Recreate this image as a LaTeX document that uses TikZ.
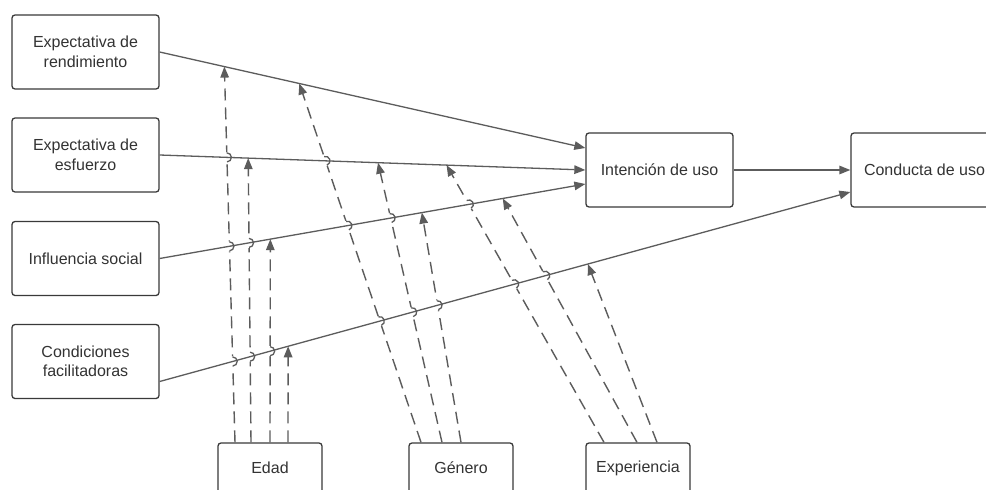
\documentclass[tikz,border=0pt]{standalone}
\usepackage{fontspec}
\setmainfont{Liberation Sans}
\usetikzlibrary{arrows.meta,intersections,calc}
\definecolor{boxc}{HTML}{3A3A3A}
\definecolor{linec}{HTML}{5C5C5C}
\definecolor{txtc}{HTML}{333333}
\newcommand\hoperase[4]{%
  \path[name intersections={of=#1 and #2,by=hp}];
  \draw[eraser] let \p1=($(#4)-(#3)$), \n1={atan2(\y1,\x1)} in
    ([shift={(\n1:-5pt)}]hp) -- ([shift={(\n1:5pt)}]hp);}
\newcommand\hoparc[4]{%
  \path[name intersections={of=#1 and #2,by=hp}];
  \draw[hopline] let \p1=($(#4)-(#3)$), \n1={atan2(\y1,\x1)} in
    ([shift={(\n1+180:4.5pt)}]hp) arc[start angle=\n1+180, end angle=\n1+360, radius=4.5pt];}
\begin{document}
\begin{tikzpicture}[x=1pt,y=-1pt,
  box/.style={draw=boxc, line width=1.3pt, rounded corners=3pt, minimum width=147pt,
    minimum height=74pt, align=center, text=txtc, inner sep=0pt,
    font=\fontsize{16}{19.5}\selectfont},
  sbox/.style={box, minimum width=104pt, minimum height=50pt},
  conn/.style={draw=linec, line width=1.3pt, -{Triangle[length=11pt,width=8.5pt]}},
  dconn/.style={draw=linec, line width=1.4pt, dash pattern=on 12pt off 7pt,
    -{Triangle[length=11pt,width=8.5pt]}},
  hopline/.style={draw=linec, line width=1.3pt},
  eraser/.style={draw=white, line width=3pt}]
\clip (0,0) rectangle (986,490);
\fill[white] (0,0) rectangle (986,490);

% boxes
\node[box] (er) at (85.5,52) {Expectativa de\\rendimiento};
\node[box] (ee) at (85.5,155) {Expectativa de\\esfuerzo};
\node[box] (is) at (85.5,258.5) {Influencia social};
\node[box] (cf) at (85.5,361.5) {Condiciones\\facilitadoras};
\node[box] (iu) at (659.5,170) {Intención de uso};
\node[box] (cu) at (924.5,170) {Conducta de uso};
\node[sbox] (ed) at (270,468) {Edad};
\node[sbox] (ge) at (461,468) {Género};
\node[sbox] (ex) at (638,468) {Experiencia};

% solid line paths with target coordinates
\path[name path=L1] (er.east) -- coordinate[pos=0.152] (a1) coordinate[pos=0.328] (g1)
  ([yshift=22pt]iu.west) coordinate (e1);
\path[name path=L2] (ee.east) -- coordinate[pos=0.208] (a2) coordinate[pos=0.513] (g2)
  coordinate[pos=0.674] (x1) (iu.west);
\path[name path=L3] (is.east) -- coordinate[pos=0.260] (a3) coordinate[pos=0.616] (g3)
  coordinate[pos=0.806] (x2) ([yshift=-14pt]iu.west) coordinate (e3);
\path[name path=L4] ([yshift=-20pt]cf.east) coordinate (s4) -- coordinate[pos=0.186] (a4)
  coordinate[pos=0.620] (x3) ([yshift=-22pt]cu.west) coordinate (e4);

% start points of the moderator arrows
\coordinate (sa1) at ([xshift=-35pt]ed.north);
\coordinate (sa2) at ([xshift=-19pt]ed.north);
\coordinate (sa3) at (ed.north);
\coordinate (sa4) at ([xshift=18pt]ed.north);
\coordinate (sg1) at ([xshift=-40pt]ge.north);
\coordinate (sg2) at ([xshift=-19pt]ge.north);
\coordinate (sg3) at (ge.north);
\coordinate (sx1) at ([xshift=-34pt]ex.north);
\coordinate (sx2) at ([xshift=-1pt]ex.north);
\coordinate (sx3) at ([xshift=19pt]ex.north);

% dashed moderator arrows
\draw[dconn, name path=DA1] (sa1) -- (a1);
\draw[dconn, name path=DA2] (sa2) -- (a2);
\draw[dconn, name path=DA3] (sa3) -- (a3);
\draw[dconn, name path=DA4] (sa4) -- (a4);
\draw[dconn, name path=DG1] (sg1) -- (g1);
\draw[dconn, name path=DG2] (sg2) -- (g2);
\draw[dconn, name path=DG3] (sg3) -- (g3);
\draw[dconn, name path=DX1] (sx1) -- (x1);
\draw[dconn, name path=DX2] (sx2) -- (x2);
\draw[dconn, name path=DX3] (sx3) -- (x3);

% erase dashed lines at crossings
\hoperase{DA1}{L4}{sa1}{a1}\hoperase{DA1}{L3}{sa1}{a1}\hoperase{DA1}{L2}{sa1}{a1}
\hoperase{DA2}{L4}{sa2}{a2}\hoperase{DA2}{L3}{sa2}{a2}
\hoperase{DA3}{L4}{sa3}{a3}
\hoperase{DG1}{L4}{sg1}{g1}\hoperase{DG1}{L3}{sg1}{g1}\hoperase{DG1}{L2}{sg1}{g1}
\hoperase{DG2}{L4}{sg2}{g2}\hoperase{DG2}{L3}{sg2}{g2}
\hoperase{DG3}{L4}{sg3}{g3}
\hoperase{DX1}{L4}{sx1}{x1}\hoperase{DX1}{L3}{sx1}{x1}
\hoperase{DX2}{L4}{sx2}{x2}

% solid connectors
\draw[conn] (er.east) -- (e1);
\draw[conn] (ee.east) -- (iu.west);
\draw[conn] (is.east) -- (e3);
\draw[conn] (s4) -- (e4);
\draw[conn] (iu.east) -- (cu.west);

% line hops
\hoparc{DA1}{L4}{sa1}{a1}\hoparc{DA1}{L3}{sa1}{a1}\hoparc{DA1}{L2}{sa1}{a1}
\hoparc{DA2}{L4}{sa2}{a2}\hoparc{DA2}{L3}{sa2}{a2}
\hoparc{DA3}{L4}{sa3}{a3}
\hoparc{DG1}{L4}{sg1}{g1}\hoparc{DG1}{L3}{sg1}{g1}\hoparc{DG1}{L2}{sg1}{g1}
\hoparc{DG2}{L4}{sg2}{g2}\hoparc{DG2}{L3}{sg2}{g2}
\hoparc{DG3}{L4}{sg3}{g3}
\hoparc{DX1}{L4}{sx1}{x1}\hoparc{DX1}{L3}{sx1}{x1}
\hoparc{DX2}{L4}{sx2}{x2}
\end{tikzpicture}
\end{document}
